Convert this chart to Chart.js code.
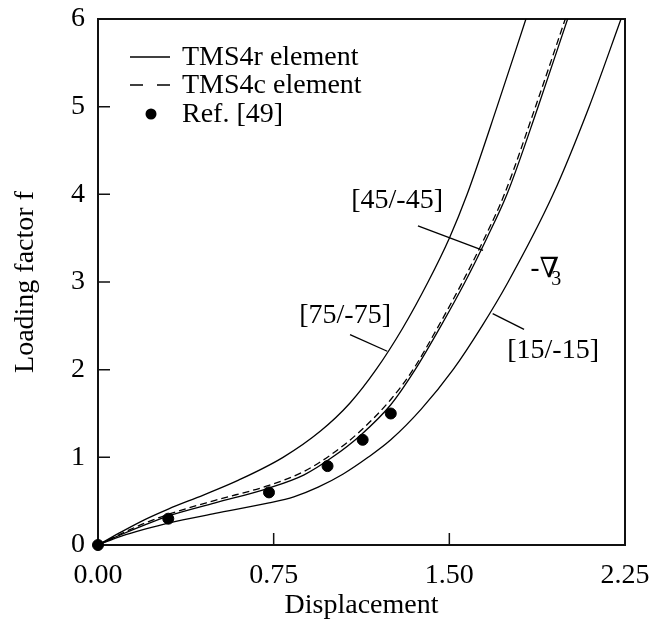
<!DOCTYPE html>
<html>
<head>
<meta charset="utf-8">
<script src="https://cdn.jsdelivr.net/npm/chart.js@4.4.1/dist/chart.umd.min.js"></script>
<style>html,body{margin:0;padding:0;background:#fff}</style>
</head>
<body>
<canvas id="myChart" width="653" height="630"></canvas>
<script>
// values (displacement, loading factor)
const x75 = [0, 0.1, 0.2, 0.3, 0.45, 0.6, 0.79, 0.95, 1.076, 1.187, 1.3, 1.409, 1.5, 1.576, 1.704, 1.827];
const f75 = [0, 0.15, 0.29, 0.41, 0.57, 0.74, 1.0, 1.3, 1.62, 2.0, 2.47, 3.0, 3.5, 4.0, 5.0, 6.0];

const x45 = [0, 0.1, 0.2, 0.3, 0.5, 0.73, 0.88, 1.0, 1.12, 1.25, 1.354, 1.46, 1.567, 1.66, 1.746, 1.879, 2.005];
const f45 = [0, 0.12, 0.23, 0.33, 0.48, 0.65, 0.8, 1.0, 1.25, 1.6, 2.0, 2.48, 3.0, 3.5, 4.0, 5.0, 6.0];

// TMS4c, [45/-45]
const x45c = [0, 0.1, 0.2, 0.3, 0.5, 0.73, 0.88, 1.0, 1.12, 1.25, 1.345, 1.45, 1.556, 1.65, 1.735, 1.868, 1.995];
const f45c = [0, 0.13, 0.25, 0.35, 0.51, 0.68, 0.84, 1.04, 1.3, 1.66, 2.0, 2.48, 3.0, 3.5, 4.0, 5.0, 6.0];

const x15 = [0, 0.1, 0.2, 0.3, 0.5, 0.73, 0.836, 0.94, 1.047, 1.153, 1.25, 1.38, 1.516, 1.64, 1.751, 1.943, 2.097, 2.233];
const f15 = [0, 0.1, 0.18, 0.25, 0.36, 0.48, 0.55, 0.66, 0.81, 1.0, 1.2, 1.55, 2.0, 2.5, 3.0, 4.0, 5.0, 6.0];

const xRef = [0, 0.3, 0.73, 0.98, 1.13, 1.25];
const fRef = [0, 0.3, 0.6, 0.9, 1.2, 1.5];

const legendLabels = ['TMS4r element', 'TMS4c element', 'Ref. [49]'];
const layupLabels = ['[75/-75]', '[45/-45]', '[15/-15]'];

const FONT = '"Liberation Serif", "Times New Roman", serif';
const pts = (xs, ys) => xs.map((x, i) => ({ x: x, y: ys[i] }));

const line = (data, dash) => ({
  type: 'scatter', data: data, showLine: true, borderColor: '#000', borderWidth: 1.3,
  borderDash: dash || [], pointRadius: 0, cubicInterpolationMode: 'monotone', fill: false
});

// box, inward ticks, legend and curve labels
const decor = {
  id: 'decor',
  beforeDatasetsDraw(chart) {
    const { ctx, chartArea: a, scales: { x, y } } = chart;
    ctx.save();
    ctx.strokeStyle = '#111';
    ctx.lineWidth = 2;
    ctx.strokeRect(a.left, a.top, a.right - a.left, a.bottom - a.top);
    ctx.lineWidth = 1.5;
    ctx.beginPath();
    y.ticks.forEach(t => { const p = y.getPixelForValue(t.value); ctx.moveTo(a.left, p); ctx.lineTo(a.left + 12, p); });
    x.ticks.forEach(t => { const p = x.getPixelForValue(t.value); ctx.moveTo(p, a.bottom); ctx.lineTo(p, a.bottom - 12); });
    ctx.stroke();
    ctx.restore();
  },
  afterDraw(chart) {
    const { ctx, chartArea: a, scales: { x, y } } = chart;
    ctx.save();
    ctx.fillStyle = '#000';
    ctx.strokeStyle = '#000';
    ctx.font = '28px ' + FONT;
    ctx.textBaseline = 'middle';
    ctx.textAlign = 'left';

    // legend
    const lx = a.left + 32, rows = [a.top + 38, a.top + 66, a.top + 95];
    ctx.lineWidth = 1.3;
    ctx.beginPath(); ctx.moveTo(lx, rows[0]); ctx.lineTo(lx + 40, rows[0]); ctx.stroke();
    ctx.setLineDash([13, 14]);
    ctx.beginPath(); ctx.moveTo(lx, rows[1]); ctx.lineTo(lx + 40, rows[1]); ctx.stroke();
    ctx.setLineDash([]);
    ctx.beginPath(); ctx.arc(lx + 21, rows[2], 5.5, 0, Math.PI * 2); ctx.fill();
    legendLabels.forEach((s, i) => ctx.fillText(s, lx + 52, rows[i] + 1));

    // curve labels with leader lines
    const X = v => x.getPixelForValue(v), Y = v => y.getPixelForValue(v);
    ctx.textAlign = 'center';
    const notes = [
      { text: layupLabels[0], at: [1.055, 2.62], from: [1.076, 2.40], to: [1.235, 2.21] },
      { text: layupLabels[1], at: [1.277, 3.93], from: [1.366, 3.64], to: [1.644, 3.36] },
      { text: layupLabels[2], at: [1.943, 2.22], from: [1.685, 2.64], to: [1.819, 2.46] }
    ];
    ctx.lineWidth = 1.3;
    notes.forEach(n => {
      ctx.fillText(n.text, X(n.at[0]), Y(n.at[1]));
      ctx.beginPath(); ctx.moveTo(X(n.from[0]), Y(n.from[1])); ctx.lineTo(X(n.to[0]), Y(n.to[1])); ctx.stroke();
    });
    // -v3 symbol
    ctx.textAlign = 'left';
    ctx.font = '28px "DejaVu Serif", serif';
    ctx.fillText('-\u2207', X(1.845), Y(3.14));
    ctx.font = '20px ' + FONT;
    ctx.fillText('3', X(1.935), Y(3.02));
    ctx.restore();
  }
};

const ctx = document.getElementById('myChart').getContext('2d');
const myChart = new Chart(ctx, {
  type: 'scatter',
  data: {
    datasets: [
      line(pts(x75, f75)),
      line(pts(x45, f45)),
      line(pts(x45c, f45c), [7, 4]),
      line(pts(x15, f15)),
      {
        type: 'scatter', data: pts(xRef, fRef), backgroundColor: '#000', borderColor: '#000',
        pointRadius: 5.5, clip: false
      }
    ]
  },
  options: {
    responsive: false,
    animation: false,
    devicePixelRatio: 1,
    layout: { padding: { top: 19, right: 28, left: 0, bottom: 0 } },
    plugins: { legend: { display: false }, tooltip: { enabled: false } },
    scales: {
      x: {
        type: 'linear', min: 0, max: 2.25,
        afterFit: s => { s.height = 85; s.paddingLeft = 0; s.paddingRight = 0; },
        grid: { display: false, drawTicks: false },
        border: { display: false },
        ticks: { stepSize: 0.75, padding: 14, color: '#000', font: { family: FONT, size: 28 },
          callback: v => Number(v).toFixed(2) },
        title: { display: true, text: 'Displacement', color: '#000', font: { family: FONT, size: 28 },
          padding: { top: 0, bottom: 8 } }
      },
      y: {
        type: 'linear', min: 0, max: 6,
        afterFit: s => { s.width = 98; s.paddingTop = 0; s.paddingBottom = 0; },
        grid: { display: false, drawTicks: false },
        border: { display: false },
        ticks: { stepSize: 1, padding: 13, color: '#000', font: { family: FONT, size: 28 } },
        title: { display: true, text: 'Loading factor f', color: '#000', font: { family: FONT, size: 28 },
          padding: { top: 9, bottom: 0 } }
      }
    }
  },
  plugins: [decor]
});
</script>
</body>
</html>
